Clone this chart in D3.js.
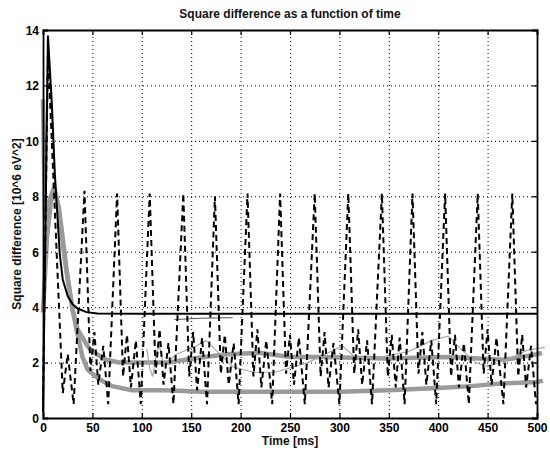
<!DOCTYPE html>
<html lang="en">
<head>
<meta charset="UTF-8">
<title>Square difference as a function of time</title>
<script src="https://d3js.org/d3.v7.min.js"></script>
<style>
    body { margin: 0; background: #fff; }
    svg { display: block; font-family: "Liberation Sans", Arial, Helvetica, sans-serif; }
    .tick text { font-size: 12px; font-weight: bold; fill: #000; }
    .grid line { stroke: #000; stroke-width: 1; stroke-dasharray: 1,3; }
    .grid path { display: none; }
    .label { font-size: 12px; font-weight: bold; fill: #111; }
</style>
</head>
<body>
<svg width="550" height="453"></svg>
<script>
// values: [time in ms, square difference in 10^6 eV^2]
const xTicks = [0, 50, 100, 150, 200, 250, 300, 350, 400, 450, 500];
const yTicks = [0, 2, 4, 6, 8, 10, 12, 14];

const solidBlack = [
    [0, 0.2], [5, 13.8], [9, 11.3], [12, 8.8], [17, 5.9], [20, 5.0], [25, 4.4],
    [30, 4.1], [35, 3.95], [44, 3.82], [55, 3.77], [100, 3.76], [500, 3.76]
];

const greyUpper = [
    [0, 11.5], [2, 7.2], [6, 7.8], [11, 8.3], [16, 7.6], [21, 6.2], [24, 5.3],
    [30, 3.9], [35, 3.2], [40, 2.9], [45, 2.6], [50, 2.4], [64, 2.1], [77, 2.0],
    [97, 2.0], [127, 2.0], [152, 2.15], [186, 2.3], [219, 2.35], [250, 2.2],
    [280, 2.2], [347, 2.15], [410, 2.2], [467, 2.1], [500, 2.3], [505, 2.35]
];

const greyLower = [
    [0, 3.8], [4, 6.5], [8, 7.8], [12, 8.2], [16, 7.5], [21, 6.0], [25, 5.0],
    [30, 3.9], [35, 3.0], [40, 2.2], [45, 1.75], [50, 1.6], [57, 1.4], [70, 1.15],
    [90, 1.0], [124, 1.0], [160, 0.95], [250, 0.95], [300, 0.95], [350, 1.0],
    [410, 1.1], [433, 1.15], [467, 1.25], [500, 1.3], [506, 1.35]
];

const thinWave = [
    [105, 2.5], [108, 1.8], [111, 1.5], [115, 2.4], [118, 2.6], [122, 1.9],
    [135, 2.3], [155, 2.6], [165, 2.8], [175, 2.45], [192, 1.85], [213, 1.65],
    [235, 1.65], [268, 2.0], [303, 2.6], [316, 2.2], [336, 2.15], [370, 2.4],
    [394, 2.8], [410, 2.95], [424, 2.45], [438, 2.0], [450, 1.85], [470, 2.1],
    [490, 2.45], [508, 2.55]
];

const thinFlat = [[133, 3.55], [160, 3.6], [192, 3.62]];

const dashed = [
    [0, 0.6], [5, 13.2], [20, 0.9], [25, 2.3], [31, 0.5],
    [42, 8.2], [48, 1.7], [52, 3.1], [56, 1.2], [61, 2.6], [66, 0.5],
    [75, 8.1], [81, 1.5], [85, 3.0], [89, 1.1], [94, 2.8], [99, 0.5],
    [108, 8.1], [114, 1.6], [118, 3.2], [122, 1.2], [127, 2.7], [132, 0.5],
    [142, 8.1], [148, 1.5], [152, 3.1], [156, 1.0], [161, 2.9], [166, 0.5],
    [174, 8.0], [180, 1.6], [184, 3.0], [188, 1.2], [193, 2.7], [198, 0.5],
    [207, 8.1], [213, 1.5], [217, 3.2], [221, 1.1], [226, 2.8], [232, 0.5],
    [240, 8.1], [246, 1.6], [250, 3.0], [254, 1.2], [259, 2.9], [265, 0.5],
    [275, 8.1], [281, 1.5], [285, 3.1], [289, 1.1], [294, 2.7], [300, 0.5],
    [309, 8.1], [315, 1.6], [319, 3.2], [323, 1.2], [328, 2.8], [333, 0.5],
    [343, 8.1], [349, 1.5], [353, 3.0], [357, 1.1], [361, 2.9], [366, 0.5],
    [374, 8.1], [380, 1.6], [384, 3.1], [388, 1.2], [393, 2.8], [398, 0.5],
    [407, 8.1], [413, 1.5], [417, 3.0], [421, 1.1], [426, 2.7], [431, 0.5],
    [440, 8.1], [446, 1.6], [450, 3.2], [454, 1.2], [459, 2.9], [466, 0.5],
    [475, 8.1], [481, 1.5], [485, 3.0], [489, 1.1], [494, 2.6], [499, 0.5], [500, 0.8]
];

const svg = d3.select("svg");
const margin = { top: 30, right: 13, bottom: 35, left: 43 };
const width = +svg.attr("width") - margin.left - margin.right;
const height = +svg.attr("height") - margin.top - margin.bottom;
const g = svg.append("g").attr("transform", `translate(${margin.left},${margin.top})`);

const x = d3.scaleLinear().domain([0, 500]).range([0, width]);
const y = d3.scaleLinear().domain([0, 14]).range([height, 0]);

// dotted grid
g.append("g").attr("class", "grid")
    .attr("transform", `translate(0,${height})`)
    .call(d3.axisBottom(x).tickValues(xTicks).tickSize(-height).tickFormat(""));
g.append("g").attr("class", "grid")
    .call(d3.axisLeft(y).tickValues(yTicks).tickSize(-width).tickFormat(""));

const line = d3.line().x(d => x(d[0])).y(d => y(d[1]));

g.append("path").datum(greyUpper).attr("d", line)
    .attr("fill", "none").attr("stroke", "#9a9a9a").attr("stroke-width", 4.5);
g.append("path").datum(greyLower).attr("d", line)
    .attr("fill", "none").attr("stroke", "#9a9a9a").attr("stroke-width", 4.5);
g.append("path").datum(thinWave).attr("d", line)
    .attr("fill", "none").attr("stroke", "#a8a8a8").attr("stroke-width", 1.2);
g.append("path").datum(thinFlat).attr("d", line)
    .attr("fill", "none").attr("stroke", "#555").attr("stroke-width", 1);
g.append("path").datum(dashed).attr("d", line)
    .attr("fill", "none").attr("stroke", "#000").attr("stroke-width", 2)
    .attr("stroke-dasharray", "6,4");
g.append("path").datum(solidBlack).attr("d", line)
    .attr("fill", "none").attr("stroke", "#000").attr("stroke-width", 2);

// axes with inward ticks, box on all sides
g.append("g").attr("transform", `translate(0,${height})`)
    .call(d3.axisBottom(x).tickValues(xTicks).tickSize(-5).tickPadding(5));
const yAxis = g.append("g")
    .call(d3.axisLeft(y).tickValues(yTicks).tickSize(-5).tickPadding(4));
g.append("g")
    .call(d3.axisTop(x).tickValues(xTicks).tickSize(-5).tickFormat(""));
g.append("g").attr("transform", `translate(${width},0)`)
    .call(d3.axisRight(y).tickValues(yTicks).tickSize(-5).tickFormat(""));
g.selectAll(".domain").attr("stroke", "#000").attr("stroke-width", 1.8);
g.selectAll(".tick line").attr("stroke", "#000").attr("stroke-width", 1.2);
yAxis.selectAll("text").attr("dy", "0.36em");

svg.append("text").attr("class", "label")
    .attr("x", margin.left + width / 2).attr("y", 18)
    .attr("text-anchor", "middle")
    .text("Square difference as a function of time");

svg.append("text").attr("class", "label")
    .attr("x", margin.left + width / 2).attr("y", 445)
    .attr("text-anchor", "middle")
    .text("Time [ms]");

svg.append("text").attr("class", "label")
    .attr("transform", `translate(21,${margin.top + height / 2}) rotate(-90)`)
    .attr("text-anchor", "middle")
    .text("Square difference [10^6 eV^2]");
</script>
</body>
</html>
